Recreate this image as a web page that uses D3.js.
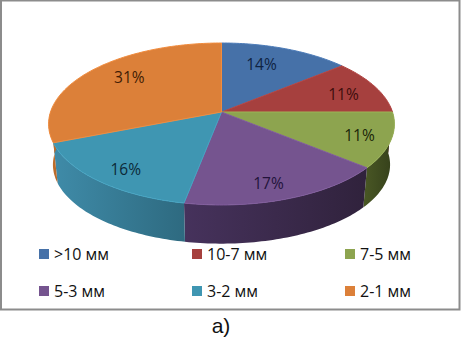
<!DOCTYPE html>
<html>
<head>
<meta charset="utf-8">
<script src="https://cdn.jsdelivr.net/npm/d3@7"></script>
<style>
html, body { margin: 0; padding: 0; background: #fff; }
svg { display: block; }
</style>
</head>
<body>
<svg id="chart" width="461" height="339"></svg>
<script>
// values
var categories = [">10 мм", "10-7 мм", "7-5 мм", "5-3 мм", "3-2 мм", "2-1 мм"];
var shares = [14, 11, 11, 17, 16, 31];
var labels = ["14%", "11%", "11%", "17%", "16%", "31%"];
var caption = "а)";

var topColors = ["#4671a8", "#a6403e", "#8da44f", "#75548f", "#3f96b2", "#dc8039"];
var wallLight = ["#345580", "#7c2f2d", "#4a5825", "#46325c", "#3f8ba8", "#c9762f"];
var wallDark = ["#2a4568", "#64262a", "#343f1a", "#30223c", "#2e6a80", "#b5672a"];
var labelColors = ["#0f2342", "#3d0d0c", "#1a2408", "#22133a", "#0c2a38", "#3f1c04"];

var svg = d3.select("#chart");
var defs = svg.append("defs");

// tilted pie: circle seen in perspective, centre of the top face is not the centre of the ellipse
var cx = 221.5, cy = 112, a = 171, b = 79.2, k = 0.148;
var depth = 41, rimScale = 0.975;

// labels don't sit on the slice bisector in the original
var labelRadius = [0.70, 0.77, 0.825, 0.83, 0.83, 0.735];
var labelTurn = [-3.7, 3, 0.8, 2.8, -2.1, 4.3];

function project(theta, t, isRim) {
    var s = isRim ? rimScale : 1;
    var x = t * Math.sin(theta), z = t * Math.cos(theta);
    var w = 1 + k * z;
    return [cx + s * a * x / w, cy + (isRim ? depth : 0) - s * b * z / w];
}

var pie = d3.pie().sort(null).value(function(d) { return d; });
var arcs = pie(shares);
var line = d3.line();

function sweep(start, end) {
    var n = Math.max(2, Math.ceil((end - start) / 0.02));
    return d3.range(n + 1).map(function(i) { return start + (end - start) * i / n; });
}

// frame
svg.append("rect")
    .attr("x", 1).attr("y", 0.5)
    .attr("width", 458.5).attr("height", 309)
    .attr("fill", "#fff")
    .attr("stroke", "#8c8c8c")
    .attr("stroke-width", 2);

// side walls, only the part facing the viewer
var wallFrom = 1.5, wallTo = 4.78;
var walls = svg.append("g").attr("class", "walls");
arcs.forEach(function(d, i) {
    var start = Math.max(d.startAngle, wallFrom), end = Math.min(d.endAngle, wallTo);
    if (end <= start) return;
    var angles = sweep(start, end);
    var upper = angles.map(function(t) { return project(t, 1, false); });
    var lower = angles.map(function(t) { return project(t, 1, true); }).reverse();
    var xs = upper.concat(lower).map(function(p) { return p[0]; });
    var grad = defs.append("linearGradient")
        .attr("id", "wall" + i)
        .attr("gradientUnits", "userSpaceOnUse")
        .attr("x1", d3.min(xs)).attr("x2", d3.max(xs))
        .attr("y1", 0).attr("y2", 0);
    grad.append("stop").attr("offset", 0).attr("stop-color", wallLight[i]);
    grad.append("stop").attr("offset", 1).attr("stop-color", wallDark[i]);
    walls.append("path")
        .attr("d", line(upper.concat(lower)) + "Z")
        .attr("fill", "url(#wall" + i + ")");
});

// top faces
var faces = svg.append("g").attr("class", "faces");
arcs.forEach(function(d, i) {
    var rim = sweep(d.startAngle, d.endAngle).map(function(t) { return project(t, 1, false); });
    faces.append("path")
        .attr("d", line([[cx, cy]].concat(rim)) + "Z")
        .attr("fill", topColors[i])
        .attr("stroke", d3.color(topColors[i]).brighter(0.25))
        .attr("stroke-width", 1)
        .attr("stroke-linejoin", "round");
});

// data labels
arcs.forEach(function(d, i) {
    var mid = (d.startAngle + d.endAngle) / 2 + labelTurn[i] * Math.PI / 180;
    var p = project(mid, labelRadius[i], false);
    svg.append("text")
        .attr("x", p[0]).attr("y", p[1])
        .attr("dy", "0.35em")
        .attr("text-anchor", "middle")
        .attr("font-family", "'Open Sans', sans-serif")
        .attr("font-size", 15.5)
        .attr("fill", labelColors[i])
        .text(labels[i]);
});

// legend
var legendX = d3.scalePoint().domain([0, 1, 2]).range([39, 345]);
var legendY = d3.scalePoint().domain([0, 1]).range([249, 286]);
var legend = svg.append("g").attr("class", "legend");
categories.forEach(function(name, i) {
    var lx = legendX(i % 3), ly = legendY(Math.floor(i / 3));
    legend.append("rect")
        .attr("x", lx).attr("y", ly)
        .attr("width", 10).attr("height", 10)
        .attr("fill", topColors[i]);
    legend.append("text")
        .attr("x", lx + 15).attr("y", ly + 5)
        .attr("dy", "0.35em")
        .attr("font-family", "'Open Sans', sans-serif")
        .attr("font-size", 16)
        .attr("fill", "#111")
        .text(name);
});

svg.append("text")
    .attr("x", 221).attr("y", 333)
    .attr("text-anchor", "middle")
    .attr("font-family", "'Liberation Sans', Arial, sans-serif")
    .attr("font-size", 21)
    .attr("fill", "#111")
    .text(caption);
</script>
</body>
</html>
